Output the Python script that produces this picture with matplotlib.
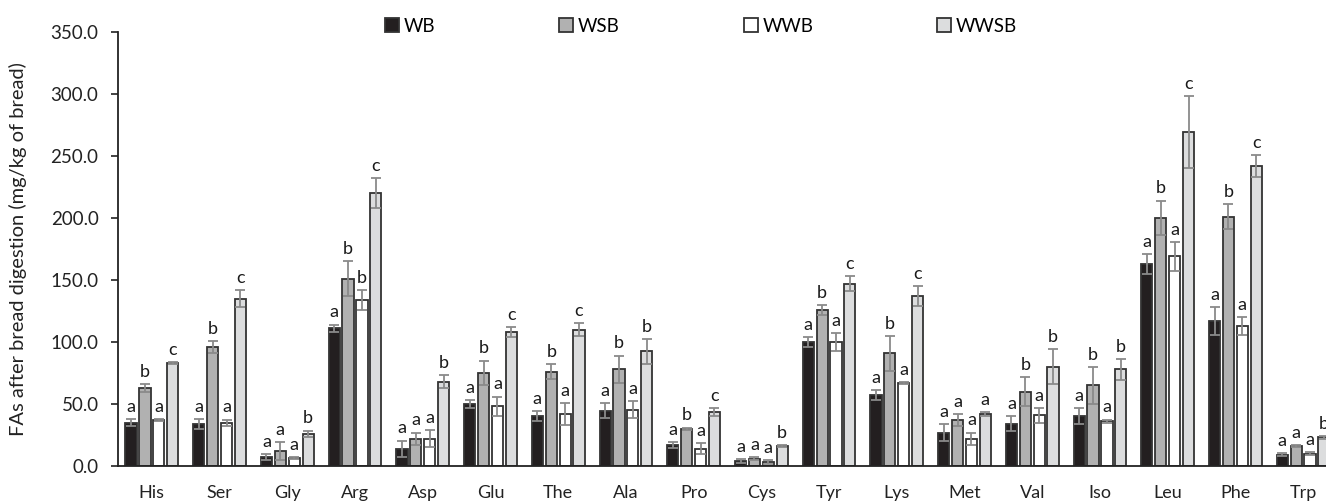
import matplotlib
matplotlib.use("Agg")
import matplotlib.pyplot as plt
from matplotlib.patches import Patch
import numpy as np

plt.rcParams['font.family'] = ['Lato', 'DejaVu Sans']

amino_acids = ["His", "Ser", "Gly", "Arg", "Asp", "Glu", "The", "Ala", "Pro",
               "Cys", "Tyr", "Lys", "Met", "Val", "Iso", "Leu", "Phe", "Trp"]

series_names = ["WB", "WSB", "WWB", "WWSB"]

wb = [35, 34, 7, 111, 14, 50, 40, 44.5, 17, 4, 100, 57, 27, 34, 40, 163, 117, 9]
wb_err = [3, 4, 2.5, 3, 6.5, 3, 4, 6, 2.5, 1.3, 4, 4, 7, 6, 6.5, 8, 11, 1.3]

wsb = [63, 96, 12, 151, 22, 75, 76, 78, 30, 6, 125.5, 91, 37, 60, 65, 200, 201, 16]
wsb_err = [3, 5, 7, 14, 5, 10, 6, 11, 1, 1, 4, 14, 5, 12, 15, 14, 10, 1]

wwb = [37, 35, 6.5, 134, 22, 48, 42, 45.5, 14, 3.5, 100, 67, 22, 41, 36, 169, 113, 10]
wwb_err = [1, 2.5, 1, 8, 7, 8, 9, 7, 4.5, 1.5, 7, 1, 5, 6, 1.5, 11.5, 7, 1.5]

wwsb = [83, 135, 26, 220, 68, 108, 110, 92.5, 43.5, 16, 147, 137, 42, 80, 78, 269, 242, 23]
wwsb_err = [0.5, 7, 2.5, 12, 5, 4, 5, 10, 3, 1, 6, 8, 1.5, 14, 8.5, 29, 9, 1.3]

letters_wb = ["a"] * 18
letters_wsb = ["b", "b", "a", "b", "a", "b", "b", "b", "b", "a", "b", "b", "a", "b", "b", "b", "b", "a"]
letters_wwb = ["a", "a", "a", "b", "a", "a", "a", "a", "a", "a", "a", "a", "a", "a", "a", "a", "a", "a"]
letters_wwsb = ["c", "c", "b", "c", "b", "c", "c", "b", "c", "b", "c", "c", "a", "b", "b", "c", "c", "b"]

values = [wb, wsb, wwb, wwsb]
errors = [wb_err, wsb_err, wwb_err, wwsb_err]
letters = [letters_wb, letters_wsb, letters_wwb, letters_wwsb]
fills = ["#231f20", "#b1b1b1", "#ffffff", "#dcddde"]
edge = "#333333"
err_color = "#8a8a8a"

W, H = 1326, 501
fig = plt.figure(figsize=(W / 100, H / 100), dpi=100)
ax = fig.add_axes([118 / W, 35 / H, 1219 / W, 434 / H])

x = np.arange(len(amino_acids))
pitch = 0.205
width = 0.165
for i in range(4):
    pos = x + (i - 1.5) * pitch
    ax.bar(pos, values[i], width=width, color=fills[i], edgecolor=edge,
           linewidth=1.3, zorder=2)
    ax.errorbar(pos, values[i], yerr=errors[i], fmt="none", ecolor=err_color,
                elinewidth=1.3, capsize=3.8, capthick=1.3, zorder=3)
    for xp, v, e, lab in zip(pos, values[i], errors[i], letters[i]):
        ax.annotate(lab, (xp, v + e), xytext=(0, 3), textcoords="offset points",
                    ha="center", va="bottom", fontsize=13, color="#1a1a1a")

ax.set_xlim(-0.5, len(amino_acids) - 0.5)
ax.set_ylim(0, 350)
ax.set_yticks(np.arange(0, 351, 50))
ax.set_yticklabels([f"{t:.1f}" for t in np.arange(0, 351, 50)])
ax.set_xticks(x)
ax.set_xticklabels(amino_acids, fontsize=13)
ax.tick_params(axis="x", length=0, pad=14, colors="#222222")
ax.tick_params(axis="y", length=5, width=1.2, direction="out", labelsize=13.5,
               colors="#222222", pad=9)
for s in ("top", "right"):
    ax.spines[s].set_visible(False)
for s in ("left", "bottom"):
    ax.spines[s].set_linewidth(1.3)
    ax.spines[s].set_color("#222222")

ax.set_ylabel("FAs after bread digestion (mg/kg of bread)", fontsize=14.5,
              color="#222222", labelpad=17)

handles = [Patch(facecolor=fills[i], edgecolor=edge, linewidth=1.3) for i in range(4)]
fig.legend(handles, series_names, loc="center", bbox_to_anchor=(701 / W, 1 - 26 / H),
           ncol=4, frameon=False, fontsize=13.5, handlelength=0.75, handleheight=0.75,
           handletextpad=0.25, columnspacing=6.6, borderaxespad=0)

fig.savefig("out.png", dpi=100)
